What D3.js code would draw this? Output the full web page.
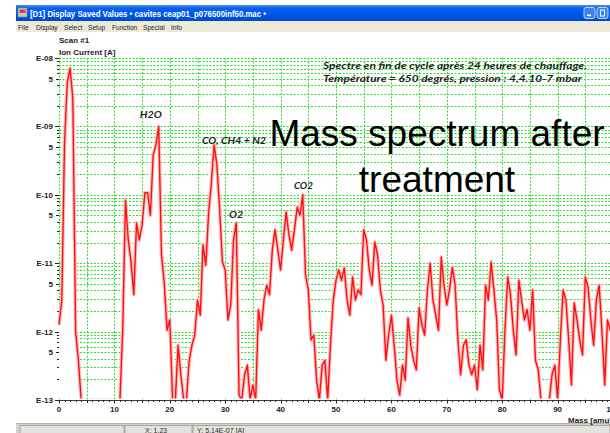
<!DOCTYPE html>
<html>
<head>
<meta charset="utf-8">
<script src="https://cdn.jsdelivr.net/npm/d3@7"></script>
<style>
  body { margin: 0; background: #fff; }
  svg { display: block; }
</style>
</head>
<body>
<svg id="chart" width="610" height="433"></svg>
<script>
// ---- data -------------------------------------------------------------
// Spectrum sampled every 0.5 amu from 0 to 100 amu; values are log10 of the ion current in A.
const massStep = 0.5;
const logIonCurrent = [
  -11.9, -11.55, -9.24, -8.35, -8.15, -8.6, -12.0, -12.42, -13.3, -13.3,     // 0 – 4.5
  -13.3, -13.3, -13.3, -13.3, -13.3, -13.3, -13.3, -13.3, -13.3, -13.3,      // 5 – 9.5
  -13.3, -13.3, -13.3, -11.98, -10.08, -10.66, -10.98, -11.46, -10.41, -10.66, // 10 – 14.5
  -10.44, -9.97, -9.97, -10.3, -9.42, -9.27, -9.0, -10.88, -11.29, -11.98,   // 15 – 19.5
  -11.83, -13.0, -13.3, -12.2, -12.63, -13.3, -13.3, -12.42, -12.2, -12.05,  // 20 – 24.5
  -11.54, -11.76, -10.73, -11.03, -10.27, -9.83, -9.27, -9.56, -10.22, -10.98, // 25 – 29.5
  -11.1, -11.83, -11.61, -10.66, -10.41, -12.93, -13.3, -12.63, -12.49, -13.3, // 30 – 34.5
  -12.78, -13.3, -11.68, -11.98, -11.54, -11.32, -11.46, -10.81, -10.51, -10.81, // 35 – 39.5
  -11.1, -10.66, -10.25, -10.58, -10.81, -10.51, -10.18, -10.3, -10.0, -11.17, // 40 – 44.5
  -11.39, -12.12, -12.05, -12.71, -13.3, -12.49, -12.42, -13.1, -12.2, -11.54, // 45 – 49.5
  -11.25, -11.1, -11.25, -11.07, -11.54, -11.76, -11.2, -11.54, -11.39, -11.46, // 50 – 54.5
  -10.51, -10.66, -11.1, -11.32, -10.69, -10.88, -11.39, -11.61, -12.42, -12.05, // 55 – 59.5
  -11.76, -12.2, -12.71, -12.93, -12.49, -12.71, -11.8, -12.2, -12.42, -12.56, // 60 – 64.5
  -11.65, -11.9, -12.05, -11.39, -11.0, -11.54, -11.76, -11.98, -10.91, -11.32, // 65 – 69.5
  -11.61, -11.39, -11.06, -11.32, -12.12, -12.63, -12.2, -12.12, -12.49, -12.63, // 70 – 74.5
  -12.49, -12.85, -12.2, -12.56, -11.32, -11.54, -10.98, -11.39, -11.83, -12.85, // 75 – 79.5
  -13.1, -11.98, -11.2, -11.46, -11.98, -12.34, -11.25, -11.54, -11.83, -11.68, // 80 – 84.5
  -11.98, -11.39, -12.42, -12.56, -13.3, -13.3, -13.3, -13.3, -12.63, -12.49, // 85 – 89.5
  -13.3, -12.12, -11.39, -11.54, -12.12, -12.78, -11.58, -11.83, -12.12, -12.34, // 90 – 94.5
  -11.2, -11.35, -11.83, -12.2, -11.54, -11.32, -11.98, -12.78, -11.83, -11.98, // 95 – 99.5
  -12.0                                                                       // 100
];

const massTicks = [0, 10, 20, 30, 40, 50, 60, 70, 80, 90, 100];
const massTickLabels = ["0", "10", "20", "30", "40", "50", "60", "70", "80", "90", "100"];
const currentTicks = [1e-8, 5e-9, 1e-9, 5e-10, 1e-10, 5e-11, 1e-11, 5e-12, 1e-12, 5e-13, 1e-13];
const currentTickLabels = ["E-08", "5", "E-09", "5", "E-10", "5", "E-11", "5", "E-12", "5", "E-13"];
const peakNames = ["H2O", "CO, CH4 + N2", "O2", "CO2"];
const noteLines = [
  "Spectre en fin de cycle après 24 heures de chauffage.",
  "Température = 650 degrés, pression : 4,4.10-7 mbar"
];
const headline = ["Mass spectrum after", "treatment"];
const menuItems = ["File", "Display", "Select", "Setup", "Function", "Special", "Info"];
const windowTitle = "[D1] Display Saved Values  \u2022 cavites ceap01_p076500inf50.mac \u2022";

// ---- layout -----------------------------------------------------------
const svg = d3.select("#chart");
const W = 610, H = 433;
const plot = { left: 59, right: 613, top: 58, bottom: 400 };

const x = d3.scaleLinear().domain([0, 100]).range([plot.left, plot.right]);
const y = d3.scaleLog().domain([1e-13, 1e-8]).range([plot.bottom, plot.top]).clamp(true);

const uiFont = "'Liberation Sans', Arial, sans-serif";

// ---- window chrome ----------------------------------------------------
const defs = svg.append("defs");
const tg = defs.append("linearGradient").attr("id", "titleGrad")
  .attr("x1", 0).attr("y1", 0).attr("x2", 0).attr("y2", 1);
tg.append("stop").attr("offset", 0).attr("stop-color", "#4d92f4");
tg.append("stop").attr("offset", 0.18).attr("stop-color", "#0a61ec");
tg.append("stop").attr("offset", 0.65).attr("stop-color", "#0057e6");
tg.append("stop").attr("offset", 1).attr("stop-color", "#0047cc");

svg.append("rect").attr("x", 16).attr("y", 5).attr("width", W - 16).attr("height", 16)
  .attr("fill", "url(#titleGrad)");
// application icon
svg.append("rect").attr("x", 18).attr("y", 8).attr("width", 9).attr("height", 9)
  .attr("fill", "#c9c9c9").attr("stroke", "#7a7a7a").attr("stroke-width", 0.6);
svg.append("rect").attr("x", 19.5).attr("y", 9.5).attr("width", 6).attr("height", 3.5)
  .attr("fill", "#d84040");
svg.append("text").attr("x", 30).attr("y", 16.5)
  .attr("font-family", uiFont).attr("font-size", 8.5).attr("font-weight", "bold")
  .attr("fill", "#fff").attr("textLength", 236).attr("lengthAdjust", "spacingAndGlyphs")
  .text(windowTitle);
// caption buttons
[584, 597].forEach((bx, i) => {
  svg.append("rect").attr("x", bx).attr("y", 7.5).attr("width", 11).attr("height", 11).attr("rx", 2)
    .attr("fill", "#3b82f2").attr("stroke", "#dfe9fb").attr("stroke-width", 0.8);
  if (i === 0) {
    svg.append("rect").attr("x", bx + 3).attr("y", 14.5).attr("width", 4).attr("height", 1.6).attr("fill", "#fff");
  } else {
    svg.append("rect").attr("x", bx + 3.5).attr("y", 10).attr("width", 4).attr("height", 6)
      .attr("fill", "none").attr("stroke", "#fff").attr("stroke-width", 1);
  }
});

// menu bar
svg.append("rect").attr("x", 16).attr("y", 21).attr("width", W - 16).attr("height", 11).attr("fill", "#ece9d8");
const menuX = [18, 36, 64, 88, 112, 143, 171];
menuItems.forEach((m, i) => {
  svg.append("text").attr("x", menuX[i]).attr("y", 29.5)
    .attr("font-family", uiFont).attr("font-size", 6.6).attr("fill", "#222").text(m);
});

// status bar
svg.append("rect").attr("x", 16).attr("y", 423).attr("width", W - 16).attr("height", 10).attr("fill", "#d6d3ce");
svg.append("line").attr("x1", 16).attr("x2", W).attr("y1", 423.5).attr("y2", 423.5).attr("stroke", "#b5b2ac");
[[20, 104], [125, 67], [193, 417]].forEach(([px, pw]) => {
  svg.append("rect").attr("x", px).attr("y", 425.5).attr("width", pw).attr("height", 9)
    .attr("fill", "#e4e2dd").attr("stroke", "#9c9a94").attr("stroke-width", 0.8);
});
svg.append("text").attr("x", 145).attr("y", 433).attr("font-family", uiFont).attr("font-size", 7)
  .attr("fill", "#333").text("X:   1.23");
svg.append("text").attr("x", 197).attr("y", 433).attr("font-family", uiFont).attr("font-size", 7)
  .attr("fill", "#333").text("Y: 5.14E-07 [A]");

// ---- grid -------------------------------------------------------------
const gridColor = "#2fe02f";
const gridG = svg.append("g").attr("stroke", gridColor).attr("stroke-width", 1)
  .attr("stroke-dasharray", "2,1.5").attr("fill", "none");

const minorValues = [];
for (let e = -13; e < -8; e++) for (let k = 1; k <= 9; k++) minorValues.push(k * Math.pow(10, e));
minorValues.push(1e-8);
minorValues.forEach(v => {
  const yy = Math.round(y(v)) + 0.5;
  gridG.append("line").attr("x1", plot.left).attr("x2", W).attr("y1", yy).attr("y2", yy);
});
d3.range(0, 101, 5).forEach(m => {
  const xx = Math.round(x(m)) + 0.5;
  gridG.append("line").attr("x1", xx).attr("x2", xx).attr("y1", plot.top).attr("y2", plot.bottom);
});

// ---- spectrum ---------------------------------------------------------
// clipped just above the mass axis so signal below E-13 leaves the axis clean
const clip = defs.append("clipPath").attr("id", "plotClip");
clip.append("rect").attr("x", plot.left - 1).attr("y", plot.top - 8).attr("width", W - plot.left + 1)
  .attr("height", plot.bottom - plot.top + 6.5);

const specG = svg.append("g").attr("clip-path", "url(#plotClip)");
const area = d3.area()
  .x((d, i) => x(i * massStep))
  .y0(plot.bottom)
  .y1(d => y(Math.pow(10, d)));
const line = d3.line()
  .x((d, i) => x(i * massStep))
  .y(d => y(Math.pow(10, d)));

specG.append("path").attr("d", area(logIonCurrent)).attr("fill", "#fff");
specG.append("path").attr("d", line(logIonCurrent)).attr("fill", "none")
  .attr("stroke", "#ffbdbd").attr("stroke-width", 3.6).attr("stroke-linejoin", "round");
specG.append("path").attr("d", line(logIonCurrent)).attr("fill", "none")
  .attr("stroke", "#ff1010").attr("stroke-width", 1.4).attr("stroke-linejoin", "round");

// ---- axes -------------------------------------------------------------
// bottom axis line with 1 amu ticks
svg.append("line").attr("x1", plot.left).attr("x2", W).attr("y1", plot.bottom + 0.5).attr("y2", plot.bottom + 0.5)
  .attr("stroke", "#3a3a3a").attr("stroke-width", 1);
const xt = svg.append("g").attr("stroke", "#222").attr("stroke-width", 1);
d3.range(0, 101, 1).forEach(m => {
  const xx = Math.round(x(m)) + 0.5;
  const len = m % 10 === 0 ? 3 : (m % 5 === 0 ? 2.5 : 1.5);
  xt.append("line").attr("x1", xx).attr("x2", xx).attr("y1", plot.bottom + 0.5).attr("y2", plot.bottom + 0.5 + len);
});
massTicks.forEach((m, i) => {
  svg.append("text").attr("x", x(m)).attr("y", 411.5).attr("text-anchor", "middle")
    .attr("font-family", uiFont).attr("font-size", 8).attr("font-weight", "bold").attr("fill", "#222")
    .text(massTickLabels[i]);
});
svg.append("text").attr("x", 568).attr("y", 422.5)
  .attr("font-family", uiFont).attr("font-size", 8).attr("font-weight", "bold").attr("fill", "#222")
  .text("Mass [amu]");

// left axis ticks (decades long, minor short)
const yt = svg.append("g").attr("stroke", "#222").attr("stroke-width", 1);
minorValues.forEach(v => {
  const yy = Math.round(y(v)) + 0.5;
  const mant = Math.round(v / Math.pow(10, Math.floor(Math.log10(v) + 1e-9)));
  const len = mant === 1 ? 4 : (mant === 5 ? 3 : 2);
  yt.append("line").attr("x1", plot.left - len).attr("x2", plot.left).attr("y1", yy).attr("y2", yy);
});
currentTicks.forEach((v, i) => {
  svg.append("text").attr("x", 53).attr("y", y(v) + 3)
    .attr("text-anchor", "end").attr("font-family", uiFont).attr("font-size", 8).attr("font-weight", "bold")
    .attr("fill", "#222").text(currentTickLabels[i]);
});
svg.append("text").attr("x", 59).attr("y", 43).attr("font-family", uiFont).attr("font-size", 8)
  .attr("font-weight", "bold").attr("fill", "#222").text("Scan #1");
svg.append("text").attr("x", 59).attr("y", 54.5).attr("font-family", uiFont).attr("font-size", 8)
  .attr("font-weight", "bold").attr("fill", "#222").text("Ion Current [A]");

// ---- annotations ------------------------------------------------------
const noteFont = "Lato, 'Open Sans', sans-serif";
// peak names anchored at (mass, current) positions above their peaks
const peakAnchors = [[14.6, -8.88, 22], [25.8, -9.26, 64], [30.7, -10.34, 14], [42.4, -9.92, 19]];
peakNames.forEach((t, i) => {
  const [m, lv, w] = peakAnchors[i];
  svg.append("text").attr("x", x(m)).attr("y", y(Math.pow(10, lv)))
    .attr("font-family", noteFont).attr("font-style", "italic").attr("font-weight", "bold")
    .attr("font-size", 10).attr("fill", "#1c1c24")
    .attr("textLength", w).attr("lengthAdjust", "spacingAndGlyphs").text(t);
});
const noteY = [68.5, 82], noteW = [264, 259];
noteLines.forEach((t, i) => {
  svg.append("text").attr("x", 323).attr("y", noteY[i])
    .attr("font-family", noteFont).attr("font-style", "italic").attr("font-weight", "bold")
    .attr("font-size", 10).attr("fill", "#1c1c24")
    .attr("textLength", noteW[i]).attr("lengthAdjust", "spacingAndGlyphs").text(t);
});
const headY = [146, 192];
headline.forEach((t, i) => {
  svg.append("text").attr("x", 437).attr("y", headY[i]).attr("text-anchor", "middle")
    .attr("font-family", uiFont).attr("font-size", 37).attr("fill", "#000").text(t);
});
</script>
</body>
</html>
